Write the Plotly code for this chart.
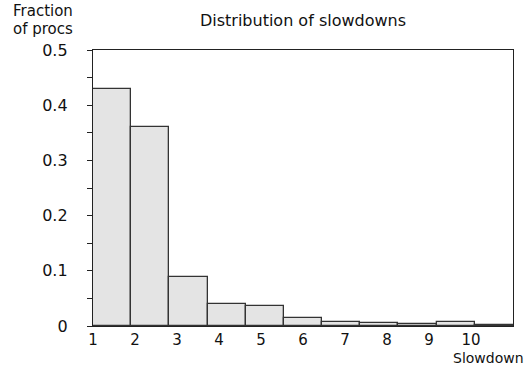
import numpy as np
import plotly.graph_objects as go

# Data
fractions = [0.43, 0.361, 0.088, 0.039, 0.036, 0.014, 0.0076, 0.0058, 0.0045, 0.0076, 0.0015]
x_lo, x_hi = 1, 11
x_tick_vals = [1, 2, 3, 4, 5, 6, 7, 8, 9, 10]
x_tick_text = ["1", "2", "3", "4", "5", "6", "7", "8", "9", "10"]
y_tick_vals = [0, 0.1, 0.2, 0.3, 0.4, 0.5]
y_tick_text = ["0", "0.1", "0.2", "0.3", "0.4", "0.5"]

n_bins = len(fractions)
bin_w = (x_hi - x_lo) / n_bins
centers = [x_lo + (i + 0.5) * bin_w for i in range(n_bins)]

FONT = "DejaVu Sans"
TXT = "#111111"
LINE = "#222222"

fig = go.Figure(go.Bar(
    x=centers, y=fractions, width=bin_w,
    marker=dict(color="#e4e4e4", line=dict(color="#333333", width=1.3)),
    hoverinfo="skip",
))

W, H = 527, 366
ml, mr, mt, mb = 93, 14, 50, 40
pw, ph = W - ml - mr, H - mt - mb

fig.update_layout(
    width=W, height=H,
    margin=dict(l=ml, r=mr, t=mt, b=mb),
    paper_bgcolor="white", plot_bgcolor="white",
    showlegend=False, bargap=0,
    font=dict(family=FONT, size=16, color=TXT),
    title=dict(text="Distribution of slowdowns", x=0.5, xref="paper",
               y=1 - 20 / H, yref="container", yanchor="middle", xanchor="center",
               font=dict(family=FONT, size=16, color=TXT)),
    xaxis=dict(range=[x_lo, x_hi], tickvals=x_tick_vals, ticktext=x_tick_text,
               ticks="", showgrid=False, zeroline=False,
               showline=True, linecolor=LINE, linewidth=1.3, mirror=True,
               ticklabelstandoff=0,
               tickfont=dict(family=FONT, size=15, color=TXT)),
    yaxis=dict(range=[0, 0.5], tickvals=y_tick_vals, ticktext=y_tick_text,
               ticks="outside", ticklen=5, tickwidth=1.3, tickcolor=LINE,
               minor=dict(dtick=0.05, tick0=0, ticks="outside", ticklen=5, tickwidth=1.3, tickcolor=LINE, showgrid=False),
               ticklabelstandoff=16,
               showgrid=False, zeroline=False,
               showline=True, linecolor=LINE, linewidth=1.3, mirror=True,
               tickfont=dict(family=FONT, size=16, color=TXT)),
)

fig.add_annotation(text="Fraction", xref="paper", yref="paper",
                   x=(11 - ml) / pw, y=1 + (mt - 11) / ph,
                   xanchor="left", yanchor="middle", showarrow=False,
                   font=dict(family=FONT, size=15, color=TXT))
fig.add_annotation(text="of procs", xref="paper", yref="paper",
                   x=(11 - ml) / pw, y=1 + (mt - 29) / ph,
                   xanchor="left", yanchor="middle", showarrow=False,
                   font=dict(family=FONT, size=15, color=TXT))
fig.add_annotation(text="Slowdown", xref="paper", yref="paper",
                   x=(526 - ml) / pw, y=-(358 - (H - mb)) / ph,
                   xanchor="right", yanchor="middle", showarrow=False,
                   font=dict(family=FONT, size=14, color=TXT))

fig.write_html("out.html")
